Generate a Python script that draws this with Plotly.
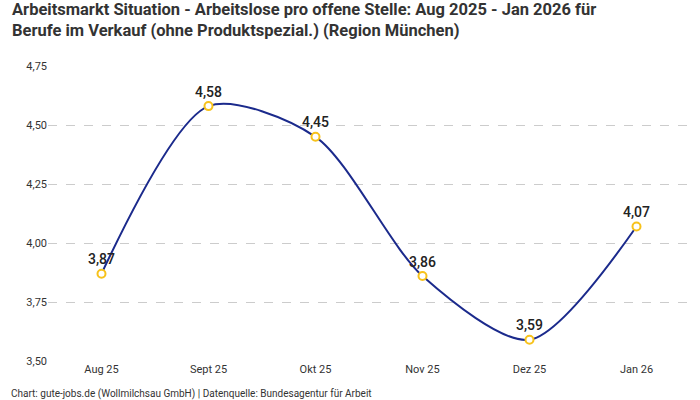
import plotly.graph_objects as go

months = ["Aug 25", "Sept 25", "Okt 25", "Nov 25", "Dez 25", "Jan 26"]
values = [3.87, 4.58, 4.45, 3.86, 3.59, 4.07]
y_ticks = [3.50, 3.75, 4.00, 4.25, 4.50, 4.75]

title = ("Arbeitsmarkt Situation - Arbeitslose pro offene Stelle: Aug 2025 - Jan 2026 für<br>"
         "Berufe im Verkauf (ohne Produktspezial.) (Region München)")
footer = "Chart: gute-jobs.de (Wollmilchsau GmbH) | Datenquelle: Bundesagentur für Arbeit"

FONT = "Roboto"
PLOT_TOP, PLOT_BOTTOM, PLOT_LEFT, PLOT_RIGHT = 66, 361, 48, 690
PH = PLOT_BOTTOM - PLOT_TOP
PW = PLOT_RIGHT - PLOT_LEFT


def py(pixel_y):
    return (PLOT_BOTTOM - pixel_y) / PH


def px(pixel_x):
    return (pixel_x - PLOT_LEFT) / PW


fig = go.Figure()
fig.add_trace(go.Scatter(
    x=months, y=values,
    mode="lines+markers+text",
    line=dict(color="#1b2a8c", width=2, shape="spline", smoothing=0.8),
    marker=dict(size=8, color="white", line=dict(color="#f7c21b", width=2)),
    text=[f"{v:.2f}".replace(".", ",") for v in values],
    textposition="top center",
    textfont=dict(family=FONT, size=14, color="#222222", weight=500),
    hoverinfo="skip",
))

fig.update_layout(
    width=700, height=400,
    paper_bgcolor="white", plot_bgcolor="white",
    separators=",.",
    margin=dict(l=PLOT_LEFT, r=700 - PLOT_RIGHT, t=PLOT_TOP, b=400 - PLOT_BOTTOM),
    showlegend=False,
    hovermode=False,
    font=dict(family=FONT, color="#333333"),
    annotations=[
        dict(text="<b>" + title + "</b>", xref="paper", yref="paper", x=px(10), y=py(-2),
             xanchor="left", yanchor="top", align="left", showarrow=False,
             font=dict(family=FONT, size=16.5, color="#333333")),
        dict(text=footer, xref="paper", yref="paper", x=px(9), y=py(386),
             xanchor="left", yanchor="top", showarrow=False,
             font=dict(family=FONT, size=10, color="#333333")),
    ],
)
fig.update_xaxes(range=[-0.5, 5.5], showgrid=False, showline=False, ticks="",
                 tickfont=dict(size=11, color="#333333"))
fig.update_yaxes(range=[3.5, 4.75], tickvals=y_ticks, tickformat=".2f",
                 showgrid=True, gridcolor="#cccccc", griddash="dash", gridwidth=1,
                 zeroline=False, showline=False, ticks="",
                 tickfont=dict(size=11, color="#333333"))

fig.write_html("out.html", config={"displayModeBar": False},
               post_script="document.body.style.margin='0';")
